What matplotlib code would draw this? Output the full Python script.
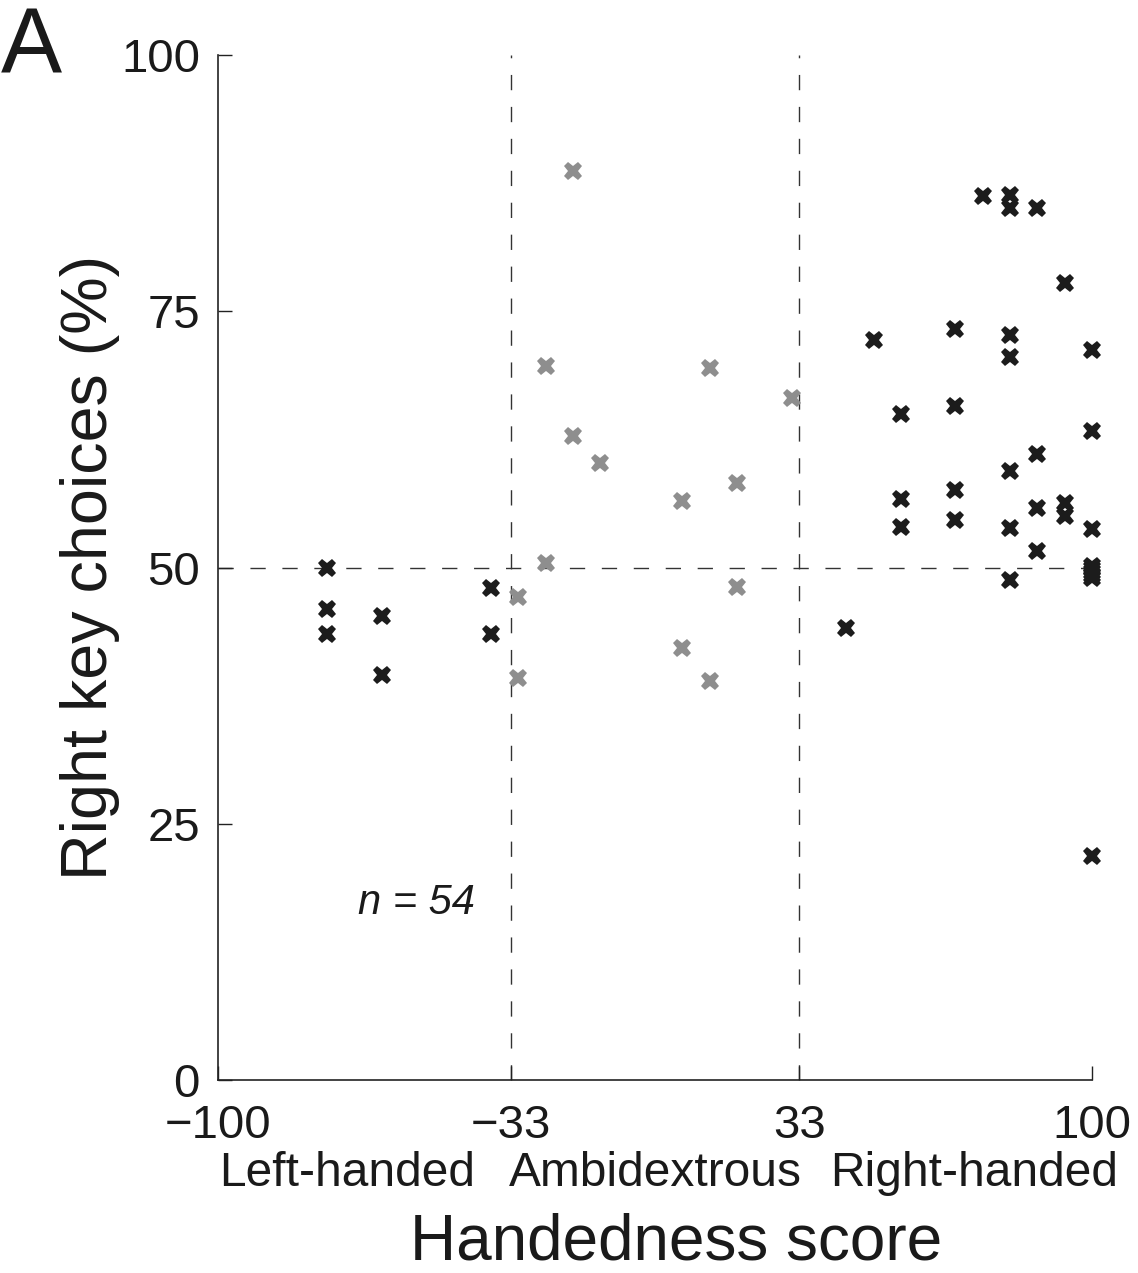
import matplotlib
matplotlib.use("Agg")
import matplotlib.pyplot as plt
import matplotlib.transforms as mtransforms

plt.rcParams['font.family'] = ['Liberation Sans', 'DejaVu Sans']

# Left-handed participants (score < -33)
left_x = [-75, -75, -75, -62.5, -62.5, -37.5, -37.5]
left_y = [50.0, 46.0, 43.5, 45.3, 39.5, 48.0, 43.5]

# Ambidextrous participants (-33 .. 33)
ambi_x = [-31.25, -31.25, -25, -25, -18.75, -18.75, -12.5,
          6.25, 6.25, 12.5, 12.5, 18.75, 18.75, 31.25]
ambi_y = [47.1, 39.2, 69.7, 50.5, 88.7, 62.8, 60.2,
          56.5, 42.2, 69.5, 38.9, 58.3, 48.1, 66.6]

# Right-handed participants (score > 33)
right_x = [43.75, 50, 56.25, 56.25, 56.25,
           68.75, 68.75, 68.75, 68.75,
           75,
           81.25, 81.25, 81.25, 81.25, 81.25, 81.25, 81.25,
           87.5, 87.5, 87.5, 87.5,
           93.75, 93.75, 93.75,
           100, 100, 100, 100, 100, 100, 100, 100, 100]
right_y = [44.1, 72.2, 65.0, 56.7, 54.0,
           73.3, 65.8, 57.6, 54.6,
           86.3,
           86.4, 85.1, 72.7, 70.6, 59.4, 53.9, 48.8,
           85.1, 61.1, 55.8, 51.6,
           77.8, 56.3, 55.0,
           71.2, 63.3, 53.8, 50.2, 49.9, 49.6, 49.3, 49.0, 21.9]

xticks = [-100, -33, 33, 100]
yticks = [0, 25, 50, 75, 100]
groups = ['Left-handed', 'Ambidextrous', 'Right-handed']
group_pos = [-70.5, 0, 73]

fig = plt.figure(figsize=(11.38, 12.73), dpi=100)
ax = fig.add_axes([0.1916, 0.1516, 0.768, 0.805])

# dashed boundaries
dash = dict(color='#333333', lw=1.0, dashes=(11, 12), zorder=1)
ax.plot([-33, -33], [0, 100], **dash)
ax.plot([33, 33], [0, 100], **dash)
ax.plot([-100, 100], [50, 50], **dash)

mk = dict(marker='X', ls='none', ms=13, mew=0, zorder=3, clip_on=False)
ax.plot(left_x, left_y, color='#1c1c1c', **mk)
ax.plot(ambi_x, ambi_y, color='#8e8e8e', **mk)
ax.plot(right_x, right_y, color='#1c1c1c', **mk)

ax.set_xlim(-100, 100)
ax.set_ylim(0, 100)
ax.set_xticks(xticks)
ax.set_yticks(yticks)
ax.spines['top'].set_visible(False)
ax.spines['right'].set_visible(False)
for s in ['left', 'bottom']:
    ax.spines[s].set_linewidth(1.2)
    ax.spines[s].set_color('#222222')
ax.tick_params(direction='in', length=10, width=1.0, labelsize=34,
               colors='#222222', labelcolor='#1a1a1a')
ax.tick_params(axis='x', pad=17)
ax.tick_params(axis='y', pad=13)

trans = mtransforms.blended_transform_factory(ax.transData, ax.transAxes)
for name, xp in zip(groups, group_pos):
    ax.text(xp, -0.091, name, transform=trans, ha='center', va='center',
            fontsize=34.5, color='#1a1a1a')

fig.text(0.594, 0.0236, 'Handedness score', ha='center', va='center',
         fontsize=46, color='#1a1a1a')
fig.text(0.079, 0.554, 'Right key choices (%)', ha='center', va='center',
         rotation=90, fontsize=46.5, color='#1a1a1a')
fig.text(0.028, 0.961, 'A', ha='center', va='center', fontsize=66,
         color='#1a1a1a')
ax.text(-54.7, 17.3, 'n = 54', ha='center', va='center', fontsize=30,
        style='italic', color='#1a1a1a')

fig.savefig('out.png', dpi=100)
